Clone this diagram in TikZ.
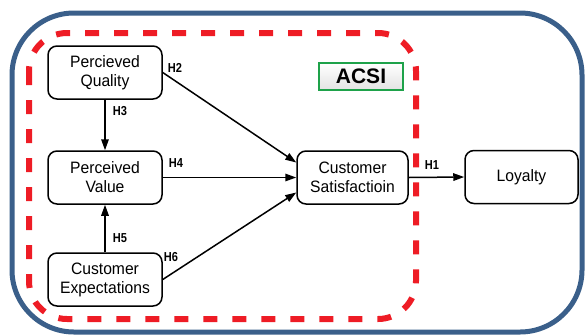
\documentclass[tikz,border=0pt]{standalone}
\usepackage{fontspec}
\setmainfont{Liberation Sans}
\newfontfamily\boxfont[FakeStretch=0.95]{Liberation Sans}
\newfontfamily\hfont[FakeStretch=0.85]{Liberation Sans}
\usetikzlibrary{arrows.meta}
\definecolor{outerblue}{HTML}{3A5F8A}
\definecolor{dashred}{HTML}{EE1C25}
\definecolor{acsigreen}{HTML}{1EA24A}
\begin{document}
\begin{tikzpicture}[x=1pt,y=-1pt,
 box/.style={draw,line width=1.5pt,rounded corners=9pt,minimum width=114pt,minimum height=53pt,align=center,font=\boxfont\fontsize{16.5}{19}\selectfont,inner sep=0pt},
 hlab/.style={font=\hfont\bfseries\fontsize{13}{13}\selectfont,inner sep=0pt},
 arr/.style={line width=1.5pt,-{Triangle[length=11pt,width=7.5pt]}}]
\useasboundingbox (0,0) rectangle (585,335);
\draw[outerblue,line width=5pt,rounded corners=62pt] (12,13) rectangle (582,332);
\draw[dashred,line width=6pt,dash pattern=on 14pt off 15pt,rounded corners=38pt] (29,33) rectangle (416,319);
\node[draw=acsigreen,line width=2.2pt,top color=white,bottom color=gray!22,minimum width=84pt,minimum height=27pt,inner sep=0pt,font=\bfseries\fontsize{21}{21}\selectfont] (acsi) at (361,76.5) {ACSI};
\node[box] (pq) at (105,72.5) {Percieved\\Quality};
\node[box] (pv) at (105,177.5) {Perceived\\Value};
\node[box] (ce) at (105,279.5) {Customer\\Expectations};
\node[box,minimum width=111pt] (cs) at (352.5,177.5) {Customer\\Satisfactioin};
\node[box,minimum width=113pt] (loy) at (521.5,177) {Loyalty};
\draw[arr] (pq.east) -- ([yshift=15pt]cs.west);
\draw[arr] (pv.east) -- (cs.west);
\draw[arr] (ce.east) -- ([yshift=-15pt]cs.west);
\draw[arr] (pq.south) -- (pv.north);
\draw[arr] (ce.north) -- (pv.south);
\draw[arr] (cs.east) -- (loy.west);
\node[hlab] (h2) at (175,68) {H2};
\node[hlab] (h3) at (120,111) {H3};
\node[hlab] (h4) at (176,163) {H4};
\node[hlab] (h5) at (120,238) {H5};
\node[hlab] (h6) at (171,257) {H6};
\node[hlab] (h1) at (432,165) {H1};
\end{tikzpicture}
\end{document}
